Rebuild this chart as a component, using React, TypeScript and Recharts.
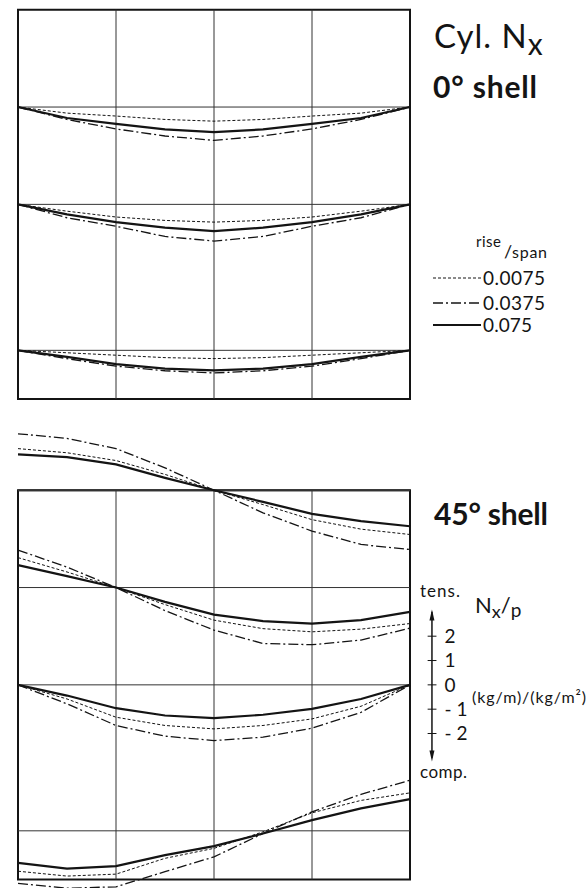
import {
    LineChart,
    Line,
    XAxis,
    YAxis,
    ReferenceArea,
    ReferenceLine,
    ReferenceDot
} from "recharts"

// positions along the span (grid columns are at 0..4)
const SPAN_POS = [0, 0.5, 1, 1.5, 2, 2.5, 3, 3.5, 4]
const RISE_SPAN = ["0.0075", "0.0375", "0.075"]
const SCALE_TICKS = [2, 1, 0, -1, -2]
const SCALE_TICK_LABELS = ["2", "1", "0", "- 1", "- 2"]

// 0° shell, Nx/p
const shell0Row1_0075 = [0, -0.25, -0.37, -0.51, -0.58, -0.51, -0.37, -0.25, 0]
const shell0Row1_0375 = [0, -0.51, -0.9, -1.19, -1.37, -1.19, -0.9, -0.51, 0]
const shell0Row1_075 = [0, -0.45, -0.69, -0.92, -1.03, -0.92, -0.69, -0.45, 0]

const shell0Row2_0075 = [0, -0.28, -0.52, -0.66, -0.73, -0.66, -0.52, -0.28, 0]
const shell0Row2_0375 = [0, -0.55, -0.9, -1.32, -1.51, -1.32, -0.9, -0.55, 0]
const shell0Row2_075 = [0, -0.41, -0.73, -0.96, -1.1, -0.96, -0.73, -0.41, 0]

const shell0Row3_0075 = [0, -0.1, -0.2, -0.3, -0.34, -0.3, -0.2, -0.1, 0]
const shell0Row3_0375 = [0, -0.34, -0.65, -0.84, -0.93, -0.84, -0.65, -0.34, 0]
const shell0Row3_075 = [0, -0.27, -0.57, -0.75, -0.82, -0.75, -0.57, -0.27, 0]

// 45° shell, Nx/p
const shell45Row0_0075 = [1.71, 1.54, 1.22, 0.65, 0, -0.59, -1.21, -1.6, -1.82]
const shell45Row0_0375 = [2.32, 2.13, 1.71, 0.92, 0, -0.93, -1.68, -2.23, -2.44]
const shell45Row0_075 = [1.47, 1.36, 1.06, 0.51, 0, -0.48, -0.97, -1.27, -1.48]

const shell45Row1_0075 = [1.23, 0.64, 0, -0.7, -1.34, -1.69, -1.82, -1.71, -1.48]
const shell45Row1_0375 = [1.54, 0.84, 0, -0.95, -1.75, -2.3, -2.35, -2.16, -1.67]
const shell45Row1_075 = [0.92, 0.47, 0, -0.59, -1.11, -1.38, -1.48, -1.34, -1.0]

const shell45Row2_0075 = [0, -0.58, -1.33, -1.67, -1.81, -1.67, -1.4, -0.88, 0]
const shell45Row2_0375 = [0, -0.78, -1.67, -2.11, -2.29, -2.15, -1.78, -1.13, 0]
const shell45Row2_075 = [0, -0.44, -0.96, -1.26, -1.37, -1.23, -0.99, -0.58, 0]

const shell45Row3_0075 = [-1.66, -1.86, -1.78, -1.13, -0.72, -0.04, 0.74, 1.25, 1.56]
const shell45Row3_0375 = [-2.16, -2.36, -2.3, -1.68, -1.07, -0.11, 0.78, 1.5, 2.08]
const shell45Row3_075 = [-1.32, -1.55, -1.45, -1.0, -0.63, -0.11, 0.44, 0.92, 1.3]

// each panel is 16 units tall, rows sit at fixed baselines inside it
const PANEL_TOPS = [0, -19.75]
const PANEL_HEIGHT = 16
const ROW_BASES = [0, -4, -8, -14]

const ROWS = [
    { panel: 0, row: 1, series: [shell0Row1_0075, shell0Row1_0375, shell0Row1_075] },
    { panel: 0, row: 2, series: [shell0Row2_0075, shell0Row2_0375, shell0Row2_075] },
    { panel: 0, row: 3, series: [shell0Row3_0075, shell0Row3_0375, shell0Row3_075] },
    { panel: 1, row: 0, series: [shell45Row0_0075, shell45Row0_0375, shell45Row0_075] },
    { panel: 1, row: 1, series: [shell45Row1_0075, shell45Row1_0375, shell45Row1_075] },
    { panel: 1, row: 2, series: [shell45Row2_0075, shell45Row2_0375, shell45Row2_075] },
    { panel: 1, row: 3, series: [shell45Row3_0075, shell45Row3_0375, shell45Row3_075] }
]

const SERIES_STYLE = [
    { width: 1, dash: "3 2" },
    { width: 1.3, dash: "10 3 2 3" },
    { width: 2.2, dash: undefined }
]

const INK = "#141414"
const FONT = "Lato, 'DejaVu Sans', sans-serif"

const data = SPAN_POS.map((x, i) => {
    const r: Record<string, number> = { x }
    ROWS.forEach((g, gi) => {
        g.series.forEach((s, si) => {
            r[`g${gi}s${si}`] = PANEL_TOPS[g.panel] + ROW_BASES[g.row] + s[i]
        })
    })
    return r
})

const SCALE_BASE = PANEL_TOPS[1] + ROW_BASES[2]
const SCALE_X = 4.224

function LegendRow({ y, idx }: { y: number; idx: number }) {
    const st = SERIES_STYLE[idx]
    const widths = [62, 62, 49]
    return (
        <g>
            <line x1={433} x2={481} y1={y} y2={y} stroke={INK} strokeWidth={st.width} strokeDasharray={st.dash} />
            <text x={483} y={y + 7} fontSize={19} textLength={widths[idx]} lengthAdjust="spacing">
                {RISE_SPAN[idx]}
            </text>
        </g>
    )
}

export default function App() {
    return (
        <div style={{ position: "absolute", left: 0, top: 0, width: 588, height: 888, background: "#fff" }}>
            <div style={{ position: "absolute", left: 0, top: 0 }}>
                <LineChart width={588} height={888} data={data} margin={{ top: 0, right: 178, bottom: 0, left: 18 }}>
                    <XAxis type="number" dataKey="x" domain={[0, 4]} hide />
                    <YAxis type="number" domain={[-36.1, 0.4]} allowDataOverflow hide />

                    {PANEL_TOPS.map((top) => (
                        <ReferenceArea
                            key={`box${top}`}
                            x1={0}
                            x2={4}
                            y1={top - PANEL_HEIGHT}
                            y2={top}
                            fill="none"
                            stroke={INK}
                            strokeWidth={2}
                            ifOverflow="visible"
                        />
                    ))}
                    {PANEL_TOPS.map((top) =>
                        [1, 2, 3].map((gx) => (
                            <ReferenceLine
                                key={`v${top}_${gx}`}
                                segment={[{ x: gx, y: top }, { x: gx, y: top - PANEL_HEIGHT }]}
                                stroke="#333"
                                strokeWidth={1}
                                ifOverflow="visible"
                            />
                        ))
                    )}
                    {ROWS.map((g, gi) => (
                        <ReferenceLine
                            key={`h${gi}`}
                            segment={[
                                { x: 0, y: PANEL_TOPS[g.panel] + ROW_BASES[g.row] },
                                { x: 4, y: PANEL_TOPS[g.panel] + ROW_BASES[g.row] }
                            ]}
                            stroke="#333"
                            strokeWidth={g.row === 0 ? 2 : 1}
                            ifOverflow="visible"
                        />
                    ))}

                    {ROWS.map((g, gi) =>
                        g.series.map((_, si) => (
                            <Line
                                key={`g${gi}s${si}`}
                                type="linear"
                                dataKey={`g${gi}s${si}`}
                                stroke={INK}
                                strokeWidth={SERIES_STYLE[si].width}
                                strokeDasharray={SERIES_STYLE[si].dash}
                                dot={false}
                                activeDot={false}
                                isAnimationActive={false}
                            />
                        ))
                    )}

                    {/* Nx/p scale */}
                    <ReferenceLine
                        segment={[{ x: SCALE_X, y: SCALE_BASE + 3.0 }, { x: SCALE_X, y: SCALE_BASE - 3.0 }]}
                        stroke={INK}
                        strokeWidth={1.5}
                        ifOverflow="visible"
                    />
                    {SCALE_TICKS.map((t, i) => (
                        <ReferenceLine
                            key={`t${t}`}
                            segment={[{ x: 4.18, y: SCALE_BASE + t }, { x: 4.27, y: SCALE_BASE + t }]}
                            stroke={INK}
                            strokeWidth={1}
                            ifOverflow="visible"
                            label={{
                                value: SCALE_TICK_LABELS[i],
                                position: "right",
                                offset: 8,
                                fill: INK,
                                fontSize: 19,
                                fontFamily: FONT
                            }}
                        />
                    ))}
                    <ReferenceDot
                        x={SCALE_X}
                        y={SCALE_BASE + 3.1}
                        ifOverflow="visible"
                        shape={(p: any) => (
                            <path d={`M${p.cx},${p.cy} L${p.cx - 2.5},${p.cy + 11} L${p.cx + 2.5},${p.cy + 11} Z`} fill={INK} />
                        )}
                    />
                    <ReferenceDot
                        x={SCALE_X}
                        y={SCALE_BASE - 3.15}
                        ifOverflow="visible"
                        shape={(p: any) => (
                            <path d={`M${p.cx},${p.cy} L${p.cx - 2.5},${p.cy - 11} L${p.cx + 2.5},${p.cy - 11} Z`} fill={INK} />
                        )}
                    />
                </LineChart>
            </div>

            <svg width={588} height={888} style={{ position: "absolute", left: 0, top: 0, pointerEvents: "none" }} fontFamily={FONT} fill={INK}>
                <text x={434} y={48} fontSize={33} letterSpacing={1}>
                    Cyl. N<tspan dy={7} fontSize={30}>x</tspan>
                </text>
                <text x={433} y={98} fontSize={30} fontWeight={700} textLength={104} lengthAdjust="spacing">
                    0° shell
                </text>

                <text x={476} y={247} fontSize={15} textLength={25} lengthAdjust="spacing">rise</text>
                <text x={504} y={258} fontSize={18}>/</text>
                <text x={512} y={258} fontSize={16} textLength={35} lengthAdjust="spacing">span</text>
                <LegendRow y={278} idx={0} />
                <LegendRow y={303} idx={1} />
                <LegendRow y={325} idx={2} />

                <text x={434} y={525} fontSize={30} fontWeight={700} textLength={114} lengthAdjust="spacing">
                    45° shell
                </text>

                <text x={420} y={597} fontSize={17} textLength={40} lengthAdjust="spacing">tens.</text>
                <text x={475} y={613} fontSize={22}>
                    N<tspan dy={5} fontSize={18}>x</tspan>
                    <tspan dy={-5} fontSize={22}>/</tspan>
                    <tspan dy={4} fontSize={19}>p</tspan>
                </text>
                <text x={472} y={703} fontSize={16} textLength={114} lengthAdjust="spacing">
                    (kg/m)/(kg/m²)
                </text>
                <text x={420} y={778} fontSize={17} textLength={47} lengthAdjust="spacing">comp.</text>
            </svg>
        </div>
    )
}
